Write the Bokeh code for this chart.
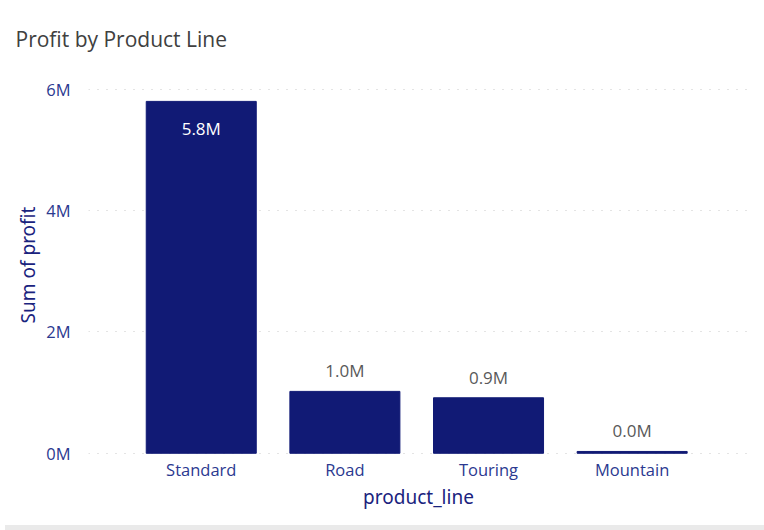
from bokeh.plotting import figure
from bokeh.models import FixedTicker, Range1d, Div, ColumnDataSource
from bokeh.layouts import column
from bokeh.core.properties import value
from bokeh.embed import file_html
from bokeh.resources import INLINE

categories = ["Standard", "Road", "Touring", "Mountain"]
profit = [5.80e6, 1.02e6, 0.915e6, 0.03e6]
y_ticks = [0, 2e6, 4e6, 6e6]
y_tick_labels = ["0M", "2M", "4M", "6M"]
title_text = "Profit by Product Line"

FONT = "Open Sans"
BAR = "#111A75"

xs = list(range(len(categories)))
labels = [f"{v/1e6:.1f}M" for v in profit]

p = figure(width=764, height=520, output_backend="svg", toolbar_location=None,
           x_range=Range1d(-0.785, len(categories) - 1 + 0.81),
           y_range=Range1d(-0.02e6, 6.227e6),
           min_border_left=88, min_border_right=16, min_border_top=75, min_border_bottom=66,
           title=title_text)
p.outline_line_color = None
p.background_fill_color = "white"
p.border_fill_color = "white"

p.title.text_font = FONT
p.title.text_font_size = "21px"
p.title.text_font_style = "normal"
p.title.text_color = "#404040"
p.title.offset = -73
p.title.standoff = 45

p.vbar(x=xs, top=profit, width=0.766, color=BAR)

inside = ColumnDataSource(dict(x=[xs[0]], y=[profit[0]], t=[labels[0]]))
outside = ColumnDataSource(dict(x=xs[1:], y=profit[1:], t=labels[1:]))
p.text(x="x", y="y", text="t", source=inside, text_align="center", text_baseline="top",
       y_offset=16, text_color="white", text_font=value(FONT), text_font_size="17px")
p.text(x="x", y="y", text="t", source=outside, text_align="center", text_baseline="bottom",
       y_offset=-9, text_color="#595959", text_font=value(FONT), text_font_size="17px")

p.xgrid.visible = False
p.ygrid.grid_line_color = "#C8C8C8"
p.ygrid.grid_line_dash = "1 8"
p.ygrid.grid_line_width = 1.2

p.yaxis.ticker = FixedTicker(ticks=y_ticks)
p.yaxis.major_label_overrides = {t: l for t, l in zip(y_ticks, y_tick_labels)}
p.xaxis.ticker = FixedTicker(ticks=xs)
p.xaxis.major_label_overrides = {i: c for i, c in enumerate(categories)}

for ax in (p.xaxis, p.yaxis):
    ax.axis_line_color = None
    ax.major_tick_line_color = None
    ax.minor_tick_line_color = None
    ax.major_label_text_font = FONT
    ax.major_label_text_font_size = "16.5px"
    ax.major_label_text_color = "#2B3990"
    ax.axis_label_text_font = "Noto Sans"
    ax.axis_label_text_font_size = "19px"
    ax.axis_label_text_font_style = "normal"
    ax.axis_label_text_color = "#1A237E"

p.yaxis.axis_label = "Sum of profit"
p.xaxis.axis_label = "product_line"
p.yaxis.major_label_standoff = 12
p.xaxis.major_label_standoff = -3
p.yaxis.axis_label_standoff = 2
p.xaxis.axis_label_standoff = 0

strip = Div(width=764, height=10, styles={"background-color": "#EAEAEA"})
layout = column(p, strip, spacing=0)

open("out.html", "w").write(file_html(layout, INLINE))
